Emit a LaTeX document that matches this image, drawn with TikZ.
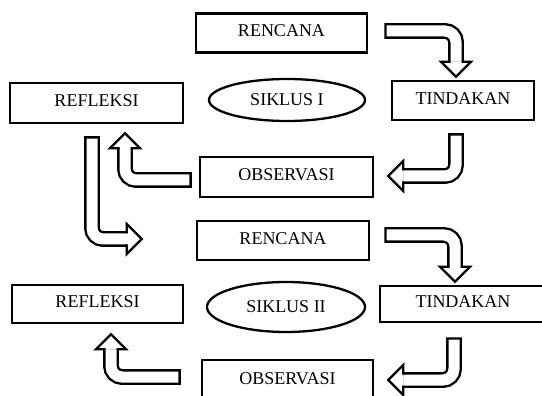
\documentclass[tikz,border=0pt]{standalone}
\usepackage{fontspec}
\setmainfont{Liberation Serif}
\usepackage{tikz}
\usetikzlibrary{shapes.geometric}
\tikzset{
    kotak/.style = {draw, line width = 2.5pt, minimum height = 39pt, inner sep = 0pt,
        text height = 12pt, text depth = 4pt, font = \fontsize{18}{18}\selectfont},
    siklus/.style = {draw, ellipse, line width = 2.3pt, inner sep = 0pt,
        font = \fontsize{18}{18}\selectfont},
}
% Panah blok: badan (garis tebal berongga) dan kepala
\newcommand{\badan}[1]{%
    \draw[line width = 15.8pt, rounded corners = 11pt] #1;
    \draw[line width = 11pt, white, rounded corners = 11pt, shorten <= 2.4pt] #1;}
\newcommand{\kepala}[2]{%
    \begin{scope}[shift = {#1}, rotate = #2]
        \filldraw[fill = white, line width = 2.4pt, line join = miter]
            (0,5.5pt) -- (0,15pt) -- (15pt,0) -- (0,-15pt) -- (0,-5.5pt);
    \end{scope}}

\begin{document}
\begin{tikzpicture}[x = 1pt, y = -1pt]
    \useasboundingbox (0,0) rectangle (542,396);
    % Siklus I
    \node[kotak, minimum width = 171pt] (ren1) at (281.5,33) {RENCANA};
    \node[siklus, minimum width = 156pt, minimum height = 42pt] (sik1) at (287,100) {SIKLUS I};
    \node[kotak, minimum width = 142pt] (tin1) at (463,100.5) {TINDAKAN};
    \node[kotak, minimum width = 173pt, minimum height = 40pt] (ref1) at (96.5,103) {REFLEKSI};
    \node[kotak, minimum width = 173pt, minimum height = 40pt] (obs1) at (286.5,177) {OBSERVASI};
    % Siklus II
    \node[kotak, minimum width = 172pt] (ren2) at (283,240.5) {RENCANA};
    \node[siklus, minimum width = 158pt, minimum height = 50pt] (sik2) at (286,307) {SIKLUS II};
    \node[kotak, minimum width = 166pt, minimum height = 36pt] (tin2) at (463,304) {TINDAKAN};
    \node[kotak, minimum width = 171pt, minimum height = 38pt] (ref2) at (97.5,304) {REFLEKSI};
    \node[kotak, minimum width = 171pt, minimum height = 40pt] (obs2) at (287.5,380) {OBSERVASI};
    % Ujung panah
    \coordinate (k1) at ([xshift = -7pt, yshift = 18pt]tin1.north);
    \coordinate (k2) at ([xshift = 29pt, yshift = 1pt]obs1.east);
    \coordinate (k3) at ([xshift = 28.5pt, yshift = -24pt]ref1.south);
    \coordinate (k4) at ([xshift = -69pt, yshift = 1.5pt]ren2.west);
    \coordinate (k5) at ([xshift = -8pt, yshift = 18pt]tin2.north);
    \coordinate (k6) at ([xshift = 29pt]obs2.east);
    \coordinate (k7) at ([xshift = 13.5pt, yshift = -25pt]ref2.south);
    % Rencana -> Tindakan -> Observasi -> Refleksi (siklus I)
    \badan{([xshift = 16pt, yshift = 2pt]ren1.east) -| (k1)}
    \kepala{(k1)}{-90}
    \badan{([xshift = -7pt, yshift = -12pt]tin1.south) |- (k2)}
    \kepala{(k2)}{180}
    \badan{([xshift = -7pt, yshift = -3pt]obs1.west) -| (k3)}
    \kepala{(k3)}{90}
    % Refleksi -> Rencana (siklus II)
    \badan{([xshift = -4.5pt, yshift = -12pt]ref1.south) |- (k4)}
    \kepala{(k4)}{0}
    \badan{([xshift = 14pt, yshift = 5.5pt]ren2.east) -| (k5)}
    \kepala{(k5)}{-90}
    \badan{([xshift = -9pt, yshift = -14pt]tin2.south) |- (k6)}
    \kepala{(k6)}{180}
    \badan{([xshift = -20pt, yshift = 3pt]obs2.west) -| (k7)}
    \kepala{(k7)}{90}
\end{tikzpicture}
\end{document}
